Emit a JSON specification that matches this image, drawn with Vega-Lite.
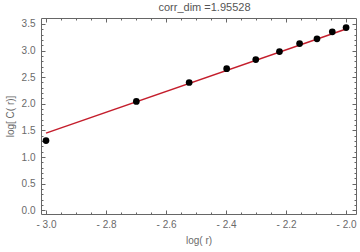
{
  "$schema": "https://vega.github.io/schema/vega-lite/v6.json",
  "width": 315,
  "height": 196,
  "autosize": "none",
  "padding": {"left": 41, "top": 18, "right": 4, "bottom": 38},
  "background": "white",
  "title": {"text": "corr_dim =1.95528", "fontSize": 11, "font": "Liberation Sans", "color": "#555555", "fontWeight": "normal", "offset": 5, "dx": 6},
  "config": {
    "view": {"stroke": "#666666", "strokeWidth": 1},
    "axis": {
      "domain": false, "grid": false, "tickColor": "#666666", "tickWidth": 1,
      "labelFont": "Liberation Sans", "labelFontSize": 10, "labelColor": "#6a6a6a",
      "titleFont": "Liberation Sans", "titleFontSize": 10, "titleColor": "#6a6a6a", "titleFontWeight": "normal"
    }
  },
  "datasets": {
    "pts": [
      {"logr": -3.0, "logC": 1.31},
      {"logr": -2.699, "logC": 2.045},
      {"logr": -2.523, "logC": 2.40},
      {"logr": -2.398, "logC": 2.66},
      {"logr": -2.301, "logC": 2.83},
      {"logr": -2.222, "logC": 2.98},
      {"logr": -2.155, "logC": 3.13},
      {"logr": -2.097, "logC": 3.22},
      {"logr": -2.046, "logC": 3.35},
      {"logr": -2.0, "logC": 3.43}
    ],
    "fit": [
      {"logr": -3.0, "logC": 1.45},
      {"logr": -2.0, "logC": 3.405}
    ]
  },
  "layer": [
    {
      "data": {"name": "fit"},
      "mark": {"type": "line", "color": "#c41e2c", "strokeWidth": 1.5},
      "encoding": {
        "x": {"field": "logr", "type": "quantitative", "scale": {"domain": [-3.0167, -1.967], "nice": false, "zero": false},
          "axis": {"orient": "bottom", "values": [-3.0, -2.8, -2.6, -2.4, -2.2, -2.0], "tickSize": -4, "labelPadding": 9, "title": "log( r)", "titlePadding": 6,
            "labelExpr": "datum.value < 0 ? '- ' + format(abs(datum.value), '.1f') : format(datum.value, '.1f')"}},
        "y": {"field": "logC", "type": "quantitative", "scale": {"domain": [-0.0675, 3.61], "nice": false, "zero": false},
          "axis": {"orient": "left", "values": [0, 0.5, 1, 1.5, 2, 2.5, 3, 3.5], "tickSize": -4, "labelPadding": 10, "title": "log[ C( r)]", "titlePadding": 6, "format": ".1f"}}
      }
    },
    {
      "data": {"name": "pts"},
      "mark": {"type": "point", "filled": true, "color": "#000000", "opacity": 1, "size": 45},
      "encoding": {
        "x": {"field": "logr", "type": "quantitative", "scale": {"domain": [-3.0167, -1.967], "nice": false, "zero": false},
          "axis": {"orient": "bottom", "values": [-2.95, -2.9, -2.85, -2.75, -2.7, -2.65, -2.55, -2.5, -2.45, -2.35, -2.3, -2.25, -2.15, -2.1, -2.05], "tickSize": -2, "labels": false, "title": null}},
        "y": {"field": "logC", "type": "quantitative", "scale": {"domain": [-0.0675, 3.61], "nice": false, "zero": false},
          "axis": {"orient": "left", "values": [0.1, 0.2, 0.3, 0.4, 0.6, 0.7, 0.8, 0.9, 1.1, 1.2, 1.3, 1.4, 1.6, 1.7, 1.8, 1.9, 2.1, 2.2, 2.3, 2.4, 2.6, 2.7, 2.8, 2.9, 3.1, 3.2, 3.3, 3.4], "tickSize": -2, "labels": false, "title": null}}
      }
    },
    {
      "data": {"name": "pts"},
      "mark": {"type": "point", "opacity": 0},
      "encoding": {
        "x": {"field": "logr", "type": "quantitative", "scale": {"domain": [-3.0167, -1.967], "nice": false, "zero": false},
          "axis": {"orient": "top", "values": [-3.0, -2.8, -2.6, -2.4, -2.2, -2.0], "tickSize": -4, "labels": false, "title": null}},
        "y": {"field": "logC", "type": "quantitative", "scale": {"domain": [-0.0675, 3.61], "nice": false, "zero": false},
          "axis": {"orient": "right", "values": [0, 0.5, 1, 1.5, 2, 2.5, 3, 3.5], "tickSize": -4, "labels": false, "title": null}}
      }
    },
    {
      "data": {"name": "pts"},
      "mark": {"type": "point", "opacity": 0},
      "encoding": {
        "x": {"field": "logr", "type": "quantitative", "scale": {"domain": [-3.0167, -1.967], "nice": false, "zero": false},
          "axis": {"orient": "top", "values": [-2.95, -2.9, -2.85, -2.75, -2.7, -2.65, -2.55, -2.5, -2.45, -2.35, -2.3, -2.25, -2.15, -2.1, -2.05], "tickSize": -2, "labels": false, "title": null}},
        "y": {"field": "logC", "type": "quantitative", "scale": {"domain": [-0.0675, 3.61], "nice": false, "zero": false},
          "axis": {"orient": "right", "values": [0.1, 0.2, 0.3, 0.4, 0.6, 0.7, 0.8, 0.9, 1.1, 1.2, 1.3, 1.4, 1.6, 1.7, 1.8, 1.9, 2.1, 2.2, 2.3, 2.4, 2.6, 2.7, 2.8, 2.9, 3.1, 3.2, 3.3, 3.4], "tickSize": -2, "labels": false, "title": null}}
      }
    }
  ],
  "resolve": {"scale": {"x": "independent", "y": "independent"}, "axis": {"x": "independent", "y": "independent"}}
}
